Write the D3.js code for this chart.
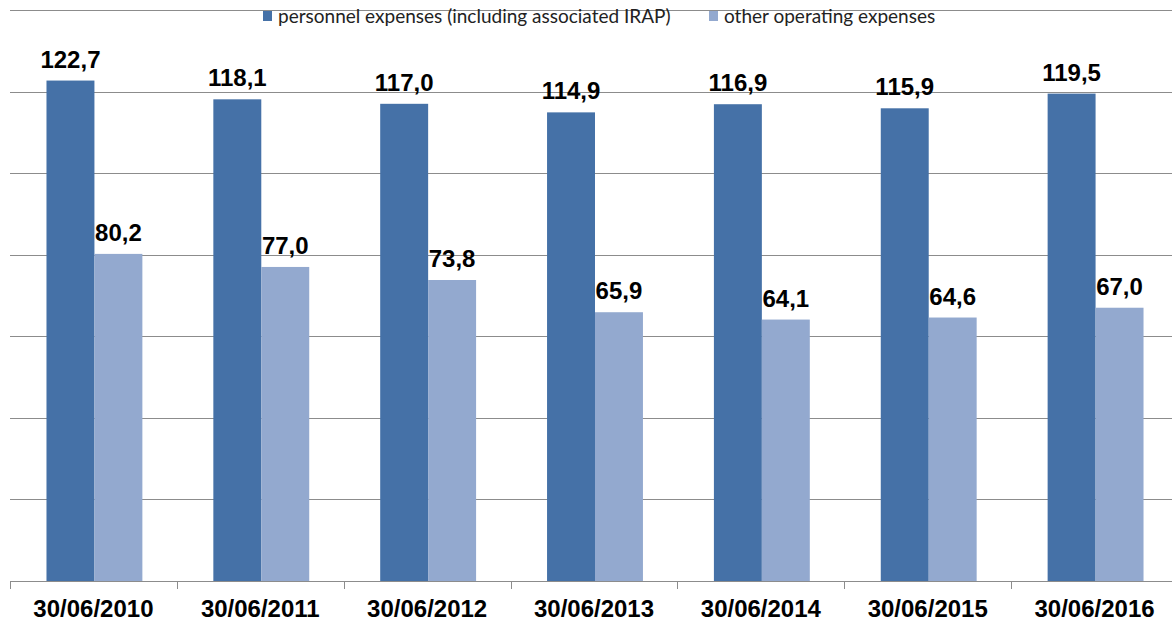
<!DOCTYPE html>
<html><head><meta charset="utf-8">
<script src="https://cdn.jsdelivr.net/npm/d3@7"></script>
<style>body{margin:0;background:#fff}svg{display:block}</style>
</head><body>
<svg id="c" width="1172" height="623"></svg>
<script>
const categories = ["30/06/2010","30/06/2011","30/06/2012","30/06/2013","30/06/2014","30/06/2015","30/06/2016"];
const personnel = [122.7,118.1,117.0,114.9,116.9,115.9,119.5];
const other = [80.2,77.0,73.8,65.9,64.1,64.6,67.0];
const seriesNames = ["personnel expenses (including associated IRAP)","other operating expenses"];
const yTicks = [0,20,40,60,80,100,120,140];
const colors = ["#4571a7","#93a9cf"];

const svg = d3.select("#c");
const x0 = d3.scaleBand().domain(categories).range([10,1178]).paddingInner(0).paddingOuter(0);
const x1 = d3.scaleBand().domain([0,1]).range([0,x0.bandwidth()]).paddingOuter(0.74).paddingInner(0);
const y = d3.scaleLinear().domain([0,140]).range([581,10]);

// gridlines
svg.append("g").selectAll("line").data(yTicks.slice(1)).join("line")
  .attr("x1",10).attr("x2",1178).attr("y1",d=>Math.round(y(d))+0.5).attr("y2",d=>Math.round(y(d))+0.5)
  .attr("stroke","#8c8c8c").attr("stroke-width",1);

const data = categories.map((c,i)=>({c, v:[personnel[i],other[i]]}));
const g = svg.append("g").selectAll("g").data(data).join("g")
  .attr("transform",d=>`translate(${x0(d.c)+1},0)`);
g.selectAll("rect").data(d=>d.v.map((v,k)=>({v,k}))).join("rect")
  .attr("x",d=>x1(d.k)).attr("width",x1.bandwidth())
  .attr("y",d=>y(d.v)).attr("height",d=>y(0)-y(d.v))
  .attr("fill",d=>colors[d.k]);
g.selectAll("text").data(d=>d.v.map((v,k)=>({v,k}))).join("text")
  .attr("x",d=>x1(d.k)+x1.bandwidth()/2).attr("y",d=>y(d.v)-13)
  .attr("text-anchor","middle")
  .attr("font-family","Liberation Sans, Arial, sans-serif").attr("font-weight","bold").attr("font-size",24)
  .attr("fill","#000")
  .text(d=>d.v.toFixed(1).replace(".",","));

// x axis
const xa = svg.append("g").attr("transform","translate(0,581)")
  .call(d3.axisBottom(x0).tickSize(0).tickPadding(0));
xa.select(".domain").attr("stroke","#8c8c8c").attr("d","M10,0.5H1178");
xa.selectAll(".tick text").attr("font-family","Liberation Sans, Arial, sans-serif")
  .attr("font-weight","bold").attr("font-size",24).attr("fill","#000").attr("dy",null).attr("y",36);
svg.append("g").selectAll("line").data(categories).join("line")
  .attr("x1",d=>Math.round(x0(d))+0.5).attr("x2",d=>Math.round(x0(d))+0.5)
  .attr("y1",581).attr("y2",589).attr("stroke","#8c8c8c");

// legend
const legX = [263,709];
const lg = svg.append("g").selectAll("g").data(seriesNames).join("g")
  .attr("transform",(d,i)=>`translate(${legX[i]},0)`);
lg.append("rect").attr("x",0).attr("y",11).attr("width",9).attr("height",10).attr("fill",(d,i)=>colors[i]);
lg.append("text").attr("x",15).attr("y",23).attr("font-family","Lato, sans-serif").attr("font-size",19)
  .attr("fill","#222").text(d=>d);
</script>
</body></html>
